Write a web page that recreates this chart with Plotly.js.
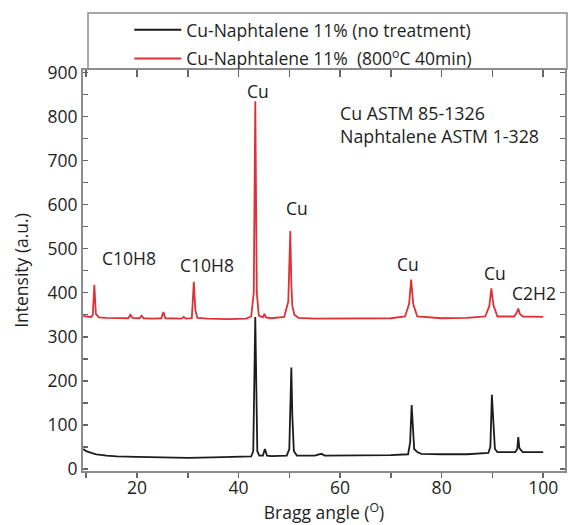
<!DOCTYPE html>
<html>
<head>
<meta charset="utf-8">
<script src="https://cdn.plot.ly/plotly-3.0.1.min.js"></script>
<style>html,body{margin:0;padding:0;background:#fff;}#chart{width:570px;height:525px;}</style>
</head>
<body>
<div id="chart"></div>
<script>
// Bragg angle (deg) and intensity (a.u.)
const blackName = 'Cu-Naphtalene 11% (no treatment)';
const blackX = [9.4, 10, 11, 12, 14, 16, 20, 25, 30, 35, 40, 42.5, 42.9, 43.3, 43.7, 44.1, 44.8, 45.2, 45.6, 46.5, 49.5, 50.0, 50.4, 50.6, 50.9, 51.5, 55, 56.3, 57, 60, 65, 70, 73.4, 73.8, 74.1, 74.3, 74.6, 75.2, 76, 80, 85, 89.2, 89.6, 89.9, 90.1, 90.25, 90.5, 91, 94.5, 94.9, 95.1, 95.3, 95.5, 96, 100];
const blackY = [45, 40, 36, 33, 30, 28, 27, 26, 25, 26, 27, 28, 40, 345, 40, 30, 30, 45, 30, 29, 30, 45, 230, 120, 40, 30, 30, 34, 30, 30, 30, 31, 33, 60, 145, 95, 45, 38, 34, 33, 33, 36, 50, 168, 110, 95, 45, 38, 38, 45, 72, 48, 44, 38, 38];

const redName = 'Cu-Naphtalene 11%  (800<sup>o</sup>C 40min)';
const redX = [9.4, 10, 11, 11.3, 11.6, 11.9, 12.5, 14, 18.3, 18.7, 19.1, 20.5, 20.9, 21.3, 23, 24.8, 25.2, 25.6, 28.8, 29.2, 29.6, 30.8, 31.2, 31.5, 31.9, 34, 38, 41.5, 42.5, 43.0, 43.3, 43.6, 44.0, 44.8, 45.1, 45.4, 46.5, 49.0, 49.8, 50.2, 50.4, 50.6, 51.0, 51.8, 55, 60, 65, 70, 72.8, 73.6, 74.0, 74.4, 75.2, 80, 85, 88.6, 89.4, 89.8, 90.2, 91.0, 94.3, 94.8, 95.1, 95.4, 96.0, 100];
const redY = [348, 346, 345, 350, 418, 352, 344, 343, 342, 350, 343, 342, 348, 342, 341, 342, 356, 342, 341, 345, 341, 342, 425, 360, 343, 341, 340, 341, 346, 400, 835, 400, 348, 344, 352, 344, 342, 345, 380, 540, 420, 370, 350, 343, 341, 341, 341, 342, 346, 375, 430, 375, 346, 342, 343, 346, 370, 410, 372, 346, 346, 355, 364, 352, 346, 345];

const xTickVals = [20, 40, 60, 80, 100];
const xTopTickVals = [10, 20, 30, 40, 50, 60, 70, 80, 90, 100];
const yTickVals = [0, 100, 200, 300, 400, 500, 600, 700, 800, 900];

const peakLabels = ['Cu', 'Cu', 'C10H8', 'C10H8', 'Cu', 'Cu', 'C2H2'];
const peakLabelX = [43.8, 51.5, 18.4, 33.7, 73.4, 90.55, 98.2];
const peakLabelY = [858, 592, 479, 463, 465, 445, 399];
const refLines = ['Cu ASTM 85-1326', 'Naphtalene ASTM 1-328'];

const FONT = 'Open Sans, DejaVu Sans, sans-serif';
const FS = 17.5;
const TXT = '#1e1e1e';
const FRAME = '#8c8c8c';

const traces = [
  {x: blackX, y: blackY, name: blackName, type: 'scatter', mode: 'lines', legendgroup: 'a',
   line: {color: '#1c1c1c', width: 1.8}},
  {x: redX, y: redY, name: redName, type: 'scatter', mode: 'lines', legendgroup: 'b',
   line: {color: '#dc3236', width: 1.8}},
  {x: [], y: [], xaxis: 'x2', yaxis: 'y', showlegend: false, type: 'scatter'}
];

const annotations = peakLabels.map((t, i) => ({
  text: t, x: peakLabelX[i], y: peakLabelY[i], xref: 'x', yref: 'y',
  showarrow: false, font: {family: FONT, size: FS, color: TXT}
}));
refLines.forEach((t, i) => annotations.push({
  text: t, x: 59.5, y: [808, 757][i], xref: 'x', yref: 'y', xanchor: 'left',
  showarrow: false, font: {family: FONT, size: 17.8, color: TXT}
}));

const layout = {
  width: 570, height: 525,
  margin: {l: 83, r: 5, t: 70, b: 54},
  paper_bgcolor: '#fff', plot_bgcolor: '#fff',
  font: {family: FONT, size: FS, color: TXT},
  showlegend: true,
  legend: {x: 0.096, y: 1.145, xanchor: 'left', yanchor: 'top', bgcolor: 'rgba(0,0,0,0)',
           borderwidth: 0, tracegroupgap: 3, itemwidth: 47,
           font: {family: FONT, size: 17.5, color: TXT}},
  xaxis: {range: [9.37, 104.3], tickvals: xTickVals,
          ticks: 'outside', ticklen: 5, tickwidth: 1.5, tickcolor: '#666', ticklabelstandoff: -5,
          minor: {dtick: 10, tick0: 0, ticks: 'outside', ticklen: 5, tickwidth: 1.5, tickcolor: '#666', showgrid: false},
          showline: true, linecolor: FRAME, linewidth: 2, showgrid: false, zeroline: false,
          tickfont: {family: FONT, size: FS, color: TXT},
          title: {text: 'Bragg angle (<sup>O</sup>)', font: {family: FONT, size: FS, color: TXT}, standoff: 9}},
  xaxis2: {overlaying: 'x', matches: 'x', side: 'top', tickvals: xTopTickVals, showticklabels: false,
           ticks: 'inside', ticklen: 7, tickwidth: 1.5, tickcolor: '#666',
           showline: true, linecolor: FRAME, linewidth: 2, showgrid: false, zeroline: false},
  yaxis: {range: [-5, 906], tickvals: yTickVals,
          ticks: 'inside', ticklen: 5, tickwidth: 1.5, tickcolor: '#666', mirror: 'ticks',
          minor: {dtick: 50, tick0: 0, ticks: 'inside', ticklen: 5, tickwidth: 1.5, tickcolor: '#666', showgrid: false},
          showline: true, linecolor: FRAME, linewidth: 2, showgrid: false, zeroline: false,
          tickfont: {family: FONT, size: FS, color: TXT},
          title: {text: 'Intensity (a.u.)', font: {family: FONT, size: FS, color: TXT}, standoff: 14}},
  shapes: [
    {type: 'rect', xref: 'paper', yref: 'paper', x0: 0.0104, x1: 1.004, y0: 1.0025, y1: 1.142,
     line: {color: FRAME, width: 1.5}, fillcolor: 'rgba(0,0,0,0)'}
  ],
  annotations: annotations
};

Plotly.newPlot('chart', traces, layout, {displayModeBar: false, staticPlot: true});
</script>
</body>
</html>
